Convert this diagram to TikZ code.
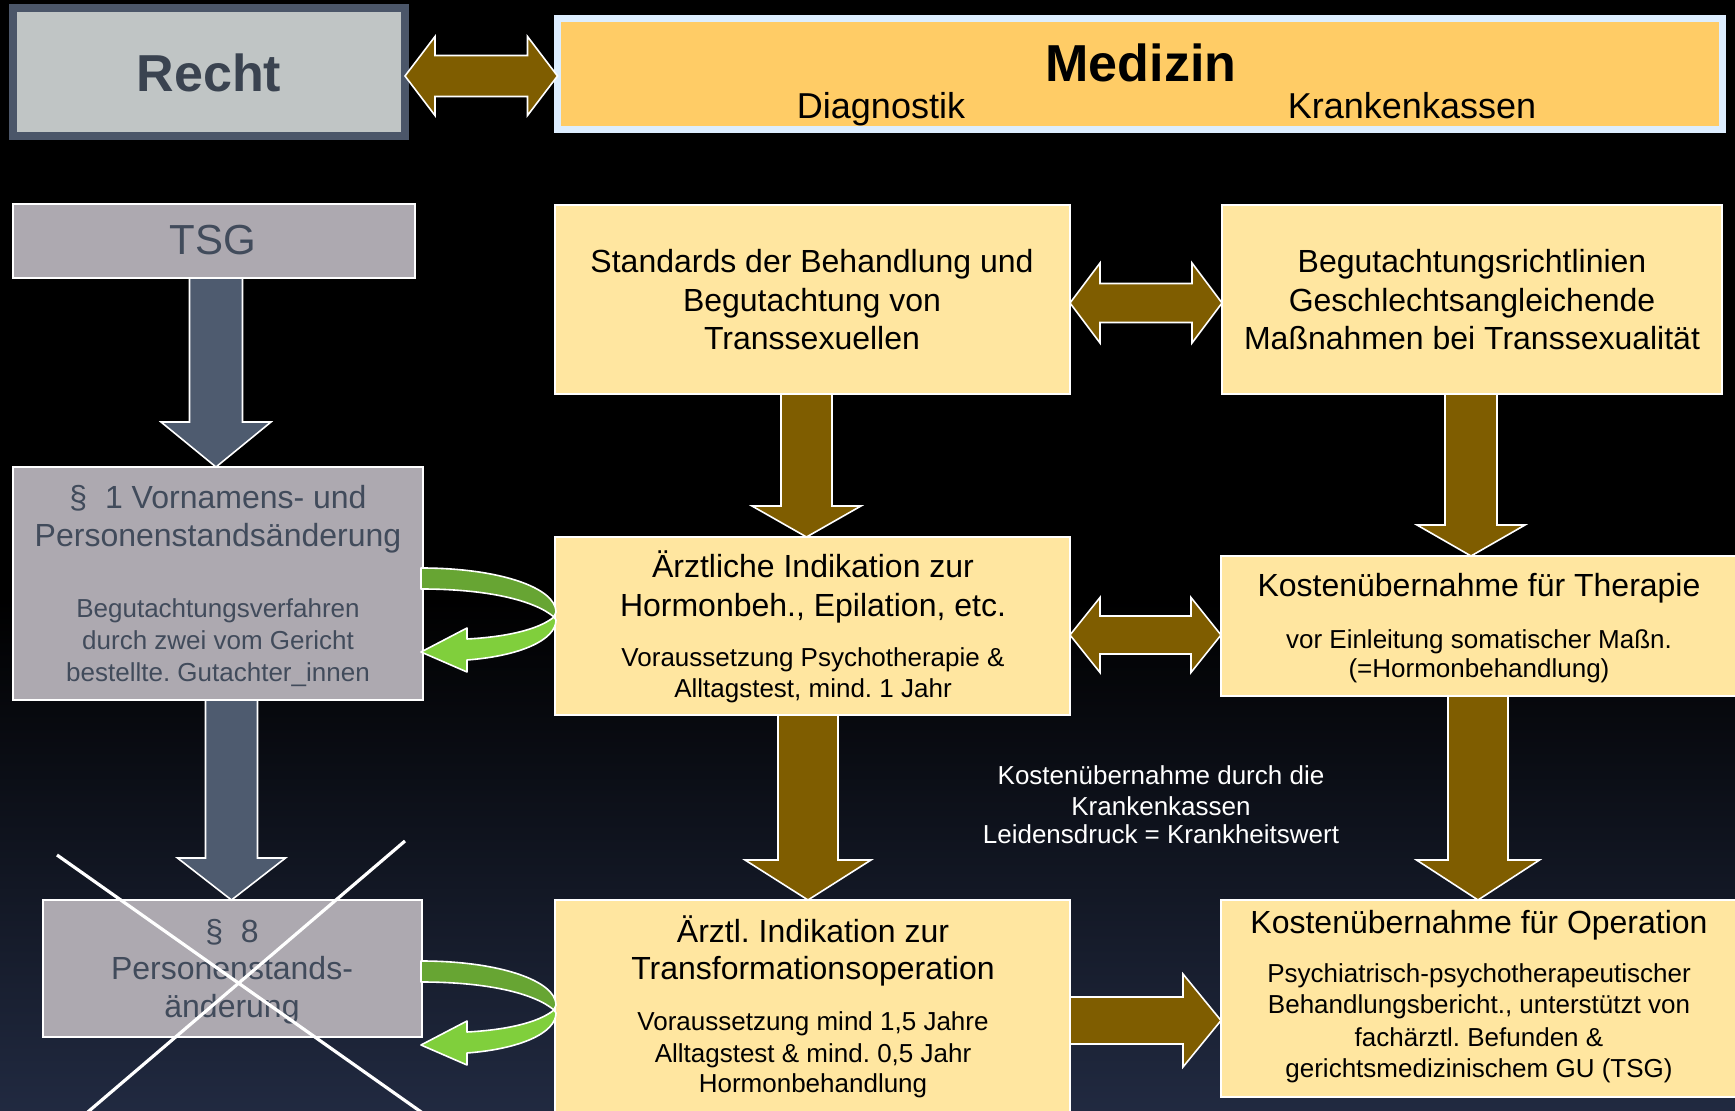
\documentclass[tikz,border=0pt]{standalone}
\usepackage{fontspec}
\setmainfont{Liberation Sans}
\usetikzlibrary{calc}
\frenchspacing
\definecolor{bgbot}{HTML}{394C71}
\definecolor{bgmid}{HTML}{252F49}
\definecolor{rechtfill}{HTML}{C0C5C5}
\definecolor{rechtborder}{HTML}{4B5669}
\definecolor{rechttext}{HTML}{3A4350}
\definecolor{medborder}{HTML}{DDEEFF}
\definecolor{medfill}{HTML}{FFCC66}
\definecolor{greyfill}{HTML}{ADA9B0}
\definecolor{greytext}{HTML}{414B5B}
\definecolor{greyarrow}{HTML}{4E5B6F}
\definecolor{yellowfill}{HTML}{FFE6A0}
\definecolor{brownc}{HTML}{7F5D00}
\definecolor{greendark}{HTML}{67A533}
\definecolor{greenlight}{HTML}{80CF3C}
\pgfdeclareverticalshading{bgsh}{100bp}{color(0bp)=(bgbot); color(22bp)=(bgmid); color(48bp)=(black); color(100bp)=(black)}
\newcommand\fs[2]{\fontsize{#1}{#2}\selectfont}
\newcommand\boxat[6]{\node[#2, minimum width={(#5-#3)*0.5pt}, minimum height={(#6-#4)*0.5pt}] (#1) at ({(#3+#5)/2},{(#4+#6)/2}) {};}
\newcommand\vblk[6]{\draw[#1] let \p1=(#2), \p2=(#3) in (\x1-#4*0.5pt,\y1) -- (\x1+#4*0.5pt,\y1) -- (\x1+#4*0.5pt,\y2+#6*0.5pt) -- (\x1+#5*0.5pt,\y2+#6*0.5pt) -- (\x1,\y2) -- (\x1-#5*0.5pt,\y2+#6*0.5pt) -- (\x1-#4*0.5pt,\y2+#6*0.5pt) -- cycle;}
\newcommand\hdbl[6]{\draw[#1] let \p1=(#2), \p2=(#3) in (\x1,\y1) -- (\x1+#6*0.5pt,\y1+#5*0.5pt) -- (\x1+#6*0.5pt,\y1+#4*0.5pt) -- (\x2-#6*0.5pt,\y1+#4*0.5pt) -- (\x2-#6*0.5pt,\y1+#5*0.5pt) -- (\x2,\y1) -- (\x2-#6*0.5pt,\y1-#5*0.5pt) -- (\x2-#6*0.5pt,\y1-#4*0.5pt) -- (\x1+#6*0.5pt,\y1-#4*0.5pt) -- (\x1+#6*0.5pt,\y1-#5*0.5pt) -- cycle;}
\newcommand\hblk[6]{\draw[#1] let \p1=(#2), \p2=(#3) in (\x1,\y1+#4*0.5pt) -- (\x2-#6*0.5pt,\y1+#4*0.5pt) -- (\x2-#6*0.5pt,\y1+#5*0.5pt) -- (\x2,\y1) -- (\x2-#6*0.5pt,\y1-#5*0.5pt) -- (\x2-#6*0.5pt,\y1-#4*0.5pt) -- (\x1,\y1-#4*0.5pt) -- cycle;}
\begin{document}
\begin{tikzpicture}[x=0.5pt,y=-0.5pt,
 ybox/.style={draw=white,line width=1pt,fill=yellowfill,inner sep=0pt,outer sep=0pt},
 gbox/.style={draw=white,line width=1pt,fill=greyfill,inner sep=0pt,outer sep=0pt},
 bigt/.style={anchor=base,inner sep=0pt,font=\fs{16}{19}},
 smallt/.style={anchor=base,inner sep=0pt,font=\fs{13}{15}},
 greyt/.style={text=greytext},
 barrow/.style={fill=brownc,draw=white,line width=0.8pt,line join=miter},
 garrow/.style={fill=greyarrow,draw=white,line width=0.8pt,line join=miter},
 curl/.style={draw=white,line width=0.8pt,line join=round},
 crossline/.style={draw=white,line width=1.6pt}]
\useasboundingbox (0,0) rectangle (1735,1111);
\shade[shading=bgsh] (0,0) rectangle (1735,1111);

% boxes
\boxat{recht}{draw=rechtborder,line width=4pt,fill=rechtfill,inner sep=0pt,outer sep=0pt}{13}{8}{405}{136}
\boxat{med}{draw=medborder,line width=3.5pt,fill=medfill,inner sep=0pt,outer sep=0pt}{557.5}{19}{1722}{130}
\boxat{tsg}{gbox}{13}{204}{415}{278}
\boxat{pone}{gbox}{13}{467}{423}{700}
\boxat{peight}{gbox}{43}{900}{422}{1037}
\boxat{sA}{ybox}{555}{205}{1070}{394}
\boxat{sB}{ybox}{1222}{205}{1722}{394}
\boxat{iC}{ybox}{555}{537}{1070}{715}
\boxat{kD}{ybox}{1221}{556}{1737}{696}
\boxat{iE}{ybox}{555}{900}{1070}{1116}
\boxat{kF}{ybox}{1221}{900}{1737}{1097}

% axes for block arrows
\coordinate (axTSG) at (216,0);
\coordinate (axP) at (231.5,0);
\coordinate (axAC) at (806.5,0);
\coordinate (axBD) at (1471,0);
\coordinate (axCE) at (808,0);
\coordinate (axDF) at (1478,0);
\coordinate (yRM) at (0,76);
\coordinate (yAB) at (0,303);
\coordinate (yCD) at (0,635);
\coordinate (yEF) at (0,1020.5);

\hdbl{barrow}{recht.east |- yRM}{med.west |- yRM}{20.5}{39.5}{30}
\hdbl{barrow}{sA.east |- yAB}{sB.west |- yAB}{19.5}{40}{30}
\hdbl{barrow}{iC.east |- yCD}{kD.west |- yCD}{19}{37.5}{30}
\hblk{barrow}{iE.east |- yEF}{kF.west |- yEF}{23.5}{46.5}{38}
\vblk{garrow}{tsg.south -| axTSG}{pone.north -| axTSG}{26.5}{55}{45}
\vblk{garrow}{pone.south -| axP}{peight.north -| axP}{26}{54}{42}
\vblk{barrow}{sA.south -| axAC}{iC.north -| axAC}{25.5}{54.5}{31}
\vblk{barrow}{sB.south -| axBD}{kD.north -| axBD}{26}{54}{31}
\vblk{barrow}{iC.south -| axCE}{iE.north -| axCE}{30}{63}{40}
\vblk{barrow}{kD.south -| axDF}{kF.north -| axDF}{30}{61.5}{40}

% green curved arrows
\foreach \yy in {568,961}{
\begin{scope}[shift={(421,\yy)}]
\draw[curl,fill=greendark] (0,0) .. controls (79,0) and (135,20) .. (135,44) -- (133,49) .. controls (114,33) and (69,21) .. (0,21) -- cycle;
\draw[curl,fill=greenlight] (133,49) .. controls (117,62) and (84,69) .. (46,71) -- (46,60) -- (0,84) -- (46,104) -- (46,92) .. controls (99,88) and (135,72) .. (135,52) -- cycle;
\end{scope}}

% texts
\node[anchor=base,inner sep=0pt,font=\fs{26}{30}\bfseries,text=rechttext] (trecht) at (209,92) {Recht};
\node[anchor=base,inner sep=0pt,font=\fs{26}{30}\bfseries] (tmed) at (1141,82) {Medizin};
\node[anchor=base,inner sep=0pt,font=\fs{18}{21}] (tdiag) at (881,119) {Diagnostik};
\node[anchor=base,inner sep=0pt,font=\fs{18}{21}] (tkk) at (1412,119) {Krankenkassen};
\node[anchor=base,inner sep=0pt,font=\fs{21}{25},text=greytext] (ttsg) at (213,255) {TSG};

\node[bigt,greyt] (p1a) at (218,509) {§\ \ 1 Vornamens- und};
\node[bigt,greyt] (p1b) at (218,547) {Personenstandsänderung};
\node[smallt,greyt] (p1c) at (218,618) {Begutachtungsverfahren};
\node[smallt,greyt] (p1d) at (218,650) {durch zwei vom Gericht};
\node[smallt,greyt] (p1e) at (218,682) {bestellte. Gutachter\_innen};

\node[bigt,greyt] (p8a) at (232,942) {§\ \ 8};
\node[bigt,greyt] (p8b) at (232,979) {Personenstands-};
\node[bigt,greyt] (p8c) at (232,1017) {änderung};

\node[bigt] (ta1) at (812,273) {Standards der Behandlung und};
\node[bigt] (ta2) at (812,312) {Begutachtung von};
\node[bigt] (ta3) at (812,350) {Transsexuellen};

\node[bigt] (tb1) at (1472,273) {Begutachtungsrichtlinien};
\node[bigt] (tb2) at (1472,312) {Geschlechtsangleichende};
\node[bigt] (tb3) at (1472,350) {Maßnahmen bei Transsexualität};

\node[bigt] (tc1) at (813,578) {Ärztliche Indikation zur};
\node[bigt] (tc2) at (813,617) {Hormonbeh., Epilation, etc.};
\node[smallt] (tc3) at (813,667) {Voraussetzung Psychotherapie \&};
\node[smallt] (tc4) at (813,698) {Alltagstest, mind. 1 Jahr};

\node[bigt] (td1) at (1479,597) {Kostenübernahme für Therapie};
\node[smallt] (td2) at (1479,649) {vor Einleitung somatischer Maßn.};
\node[smallt] (td3) at (1479,678) {(=Hormonbehandlung)};

\node[bigt] (te1) at (813,942) {Ärztl. Indikation zur};
\node[bigt] (te2) at (813,979) {Transformationsoperation};
\node[smallt] (te3) at (813,1030) {Voraussetzung mind 1,5 Jahre};
\node[smallt] (te4) at (813,1062) {Alltagstest \& mind. 0,5 Jahr};
\node[smallt] (te5) at (813,1092) {Hormonbehandlung};

\node[bigt] (tf1) at (1479,933) {Kostenübernahme für Operation};
\node[smallt] (tf2) at (1479,982) {Psychiatrisch-psychotherapeutischer};
\node[smallt] (tf3) at (1479,1013) {Behandlungsbericht., unterstützt von};
\node[smallt] (tf4) at (1479,1046) {fachärztl. Befunden \&};
\node[smallt] (tf5) at (1479,1077) {gerichtsmedizinischem GU (TSG)};

\node[smallt,text=white] (tm1) at (1161,785) {Kostenübernahme durch die};
\node[smallt,text=white] (tm2) at (1161,816) {Krankenkassen};
\node[smallt,text=white] (tm3) at (1161,843) {Leidensdruck = Krankheitswert};

% cross over §8
\coordinate (xa1) at (57,855);
\coordinate (xa2) at (424,1114);
\coordinate (xb1) at (405,841);
\coordinate (xb2) at (85.5,1114);
\draw[crossline] (xa1) -- (xa2);
\draw[crossline] (xb1) -- (xb2);
\end{tikzpicture}
\end{document}
